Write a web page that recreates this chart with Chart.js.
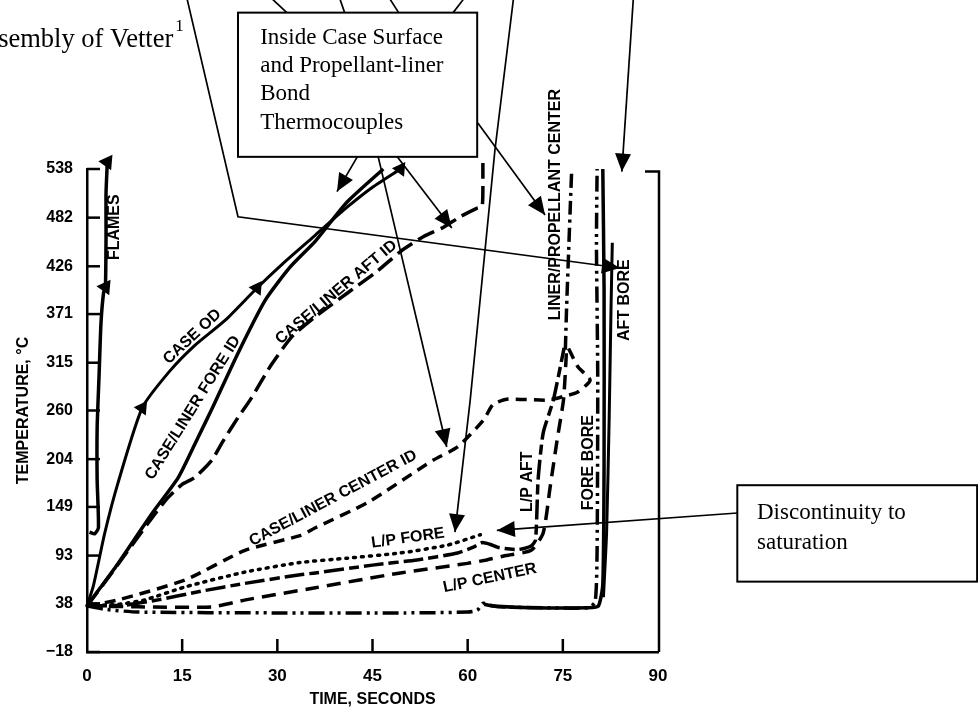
<!DOCTYPE html>
<html lang="en">
<head>
<meta charset="UTF-8" />
<title>Thermocouple temperatures vs time</title>
<script src="https://cdn.jsdelivr.net/npm/chart.js"></script>
<style>
  html, body { margin: 0; padding: 0; background: #fff; }
  #wrap { width: 978px; height: 708px; }
</style>
</head>
<body>
<div id="wrap"><canvas id="chart" width="978" height="708"></canvas></div>
<script>
// axis ticks
const timeTicks = [0, 15, 30, 45, 60, 75, 90];
const tempTicks = [-18, 38, 93, 149, 204, 260, 315, 371, 426, 482, 538];

// curves: [time s, temperature C]
const flames = [[0.4,120],[1.2,118],[1.8,125],[1.6,180],[1.6,240],[1.9,300],[2.2,360],[2.6,395],[2.9,402],[3.0,460],[3.0,510],[3.2,546]];
const caseOD = [[0,35],[1,58],[2.8,119],[4.9,177],[8.7,263],[13,305],[17,335],[21.8,364],[26.8,401],[31,430],[36,462],[41,494],[45,517],[49.4,538]];
const foreID = [[0,35],[2,55],[4.9,84],[10.3,142],[14.4,183],[17.5,229],[19.7,262],[23.8,326],[28.1,387],[32,425],[36,455],[41,500],[46.7,538]];
const aftID = [[0,35],[3.9,73],[10.3,137],[12.8,160],[15,175],[17,183],[19.7,203],[21.3,223],[23.8,252],[25.7,272],[29,312],[32.3,345],[36,368],[41,395],[45.7,420],[49.4,443],[53,460],[56.2,471],[58.8,483],[61.5,493],[62.3,495],[62.4,545]];
const centerID = [[0,35],[4.9,42],[15.5,65],[24.9,99],[33.6,116],[36,125],[44.2,154],[54.6,203],[58.4,218],[62.5,249],[64,267],[66.2,273],[72.6,272],[75.5,277],[77.3,281],[79.3,295],[77.4,310],[75.8,333]];
const lpFore = [[0,35],[5,37],[9.1,42],[15.5,57],[24.9,74],[33.6,85],[41,90],[49.4,96],[56.8,105],[62,117]];
const lpAft = [[0,35],[6,36],[11.2,42],[18,52],[24.9,61],[33.6,71],[36,73],[45,82],[52,88],[58.4,96],[61,103],[62.3,108],[63.5,106],[65,102],[68,100],[70,104],[70.7,111],[71.1,180],[71.9,234],[73.5,272],[75.2,332]];
const lpCenter = [[0,35],[8,34],[19.7,34],[25,42],[36,56],[49.4,73],[60,84],[63,88],[66,93],[70,99],[71.9,119],[73,172],[74.1,226],[75.1,272],[75.5,318],[75.6,335]];
const linerPropCenter = [[75.4,330],[75.6,380],[75.9,440],[76.2,500],[76.4,538]];
const foreBore = [[0,35],[3,31],[8,28],[30,27],[50,27],[60,28],[61.5,30],[62.4,38],[63.5,36],[65,34],[72,33],[79,33],[80.1,40],[80.4,100],[80.5,300],[80.3,450],[80.4,538]];
const aftBore = [[62.6,37],[64,35],[70,33],[79,33],[80.6,35],[81.3,60],[81.5,200],[81.5,400],[81.3,538]];
const aftBore2 = [[81.4,45],[81.9,120],[82.3,250],[82.6,380],[82.8,453]];

// which points of a curve carry a triangle marker
const flameMarks = [8, 11];
const caseODMarks = [4, 8, 13];

// curve names written on the plot: text, time, temperature, angle (deg)
const curveLabels = [
  ['FLAMES', 4.4, 471, -90],
  ['CASE OD', 16.6, 345, -43],
  ['CASE/LINER FORE ID', 16.7, 263, -58],
  ['CASE/LINER AFT ID', 39.3, 396, -40],
  ['CASE/LINER CENTER ID', 38.8, 159, -28],
  ['L/P FORE', 50.6, 113, -8],
  ['L/P CENTER', 63.5, 67, -12],
  ['L/P AFT', 69.4, 178, -90],
  ['FORE BORE', 79.1, 200, -90],
  ['AFT BORE', 84.8, 387, -90],
  ['LINER/PROPELLANT CENTER', 73.8, 497, -90]
];

// callout leader lines in chart units; arrowhead on the last point when head is true
const calloutPaths = [
  { pts: [[15.8,733],[23.8,483],[84.0,424]], head: true },
  { pts: [[29.3,733],[31.5,718]], head: false },
  { pts: [[39.9,733],[40.7,716]], head: false },
  { pts: [[47.8,733],[49.3,716]], head: false },
  { pts: [[59.3,733],[57.5,716]], head: false },
  { pts: [[67.2,733],[64.3,560],[60.4,272],[58.0,120]], head: true },
  { pts: [[86.1,733],[84.3,535]], head: true },
  { pts: [[42.6,552],[39.4,512]], head: true },
  { pts: [[45.9,552],[56.7,218]], head: true },
  { pts: [[48.9,552],[57.5,470]], head: true },
  { pts: [[61.6,591],[72.2,485]], head: true },
  { pts: [[102.5,142],[64.6,122]], head: true }
];

const calloutBoxes = [
  { box: [23.8,718,61.5,552], lines: ['Inside Case Surface', 'and Propellant-liner', 'Bond', 'Thermocouples'], at: [27.3,689], step: 28.3 },
  { box: [102.5,174,140.3,63], lines: ['Discontinuity to', 'saturation'], at: [105.6,142], step: 30 }
];

const sansBold = '"Liberation Sans", Arial, Helvetica, sans-serif';
const serif = '"Liberation Serif", "Times New Roman", serif';

const toXY = arr => arr.map(p => ({ x: p[0], y: p[1] }));

function series(label, pts, dash, width, extra) {
  return Object.assign({
    label: label,
    data: toXY(pts),
    borderColor: '#000',
    backgroundColor: '#000',
    borderWidth: width,
    borderDash: dash,
    pointRadius: 0,
    tension: 0.2,
    clip: false
  }, extra || {});
}

const marked = idx => ({
  pointStyle: 'triangle',
  pointRadius: ctx => idx.includes(ctx.dataIndex) ? 5.5 : 0,
  pointRotation: 35
});

function arrowHead(ctx, x0, y0, x1, y1) {
  const a = Math.atan2(y1 - y0, x1 - x0);
  const len = 18, half = 8;
  ctx.beginPath();
  ctx.moveTo(x1, y1);
  ctx.lineTo(x1 - len * Math.cos(a) + half * Math.sin(a), y1 - len * Math.sin(a) - half * Math.cos(a));
  ctx.lineTo(x1 - len * Math.cos(a) - half * Math.sin(a), y1 - len * Math.sin(a) + half * Math.cos(a));
  ctx.closePath();
  ctx.fill();
}

const decorations = {
  id: 'decorations',
  afterDraw(chart) {
    const ctx = chart.ctx;
    const xs = chart.scales.x, ys = chart.scales.y;
    const X = v => xs.getPixelForValue(v);
    const Y = v => ys.getPixelForValue(v);
    const area = chart.chartArea;
    ctx.save();
    ctx.strokeStyle = '#000';
    ctx.fillStyle = '#000';

    // inward tick marks
    ctx.lineWidth = 2.5;
    ys.ticks.forEach(t => {
      const y = Y(t.value);
      ctx.beginPath(); ctx.moveTo(area.left, y); ctx.lineTo(area.left + 13, y); ctx.stroke();
    });
    xs.ticks.forEach(t => {
      if (t.value === 0 || t.value === 90) return;
      const x = X(t.value);
      ctx.beginPath(); ctx.moveTo(x, area.bottom); ctx.lineTo(x, area.bottom - 13); ctx.stroke();
    });

    // right frame with small stub at the top
    ctx.lineWidth = 2.5;
    ctx.beginPath();
    ctx.moveTo(area.right - 13, Y(535));
    ctx.lineTo(area.right + 1, Y(535));
    ctx.lineTo(area.right + 1, area.bottom);
    ctx.stroke();

    // curve names
    ctx.font = 'bold 16px ' + sansBold;
    ctx.textAlign = 'center';
    ctx.textBaseline = 'middle';
    curveLabels.forEach(([txt, t, v, ang]) => {
      ctx.save();
      ctx.translate(X(t), Y(v));
      ctx.rotate(ang * Math.PI / 180);
      ctx.fillText(txt, 0, 0);
      ctx.restore();
    });

    // callout leaders
    ctx.lineWidth = 1.7;
    calloutPaths.forEach(p => {
      const px = p.pts.map(q => [X(q[0]), Y(q[1])]);
      ctx.beginPath();
      ctx.moveTo(px[0][0], px[0][1]);
      px.slice(1).forEach(q => ctx.lineTo(q[0], q[1]));
      ctx.stroke();
      if (p.head) {
        const a = px[px.length - 2], b = px[px.length - 1];
        arrowHead(ctx, a[0], a[1], b[0], b[1]);
      }
    });

    // callout boxes
    calloutBoxes.forEach(b => {
      const x0 = X(b.box[0]), y0 = Y(b.box[1]), x1 = X(b.box[2]), y1 = Y(b.box[3]);
      ctx.fillStyle = '#fff';
      ctx.fillRect(x0, y0, x1 - x0, y1 - y0);
      ctx.lineWidth = 2;
      ctx.strokeRect(x0, y0, x1 - x0, y1 - y0);
      ctx.fillStyle = '#000';
      ctx.font = '23px ' + serif;
      ctx.textAlign = 'left';
      ctx.textBaseline = 'middle';
      b.lines.forEach((ln, i) => ctx.fillText(ln, X(b.at[0]), Y(b.at[1]) + i * b.step));
    });

    // source note, cut at the left edge like the scan
    ctx.font = '26.5px ' + serif;
    ctx.textAlign = 'right';
    ctx.textBaseline = 'alphabetic';
    ctx.fillText('Assembly of Vetter', X(13.6), Y(678));
    ctx.font = '17px ' + serif;
    ctx.textAlign = 'left';
    ctx.fillText('1', X(13.9), Y(697));
    ctx.restore();
  }
};

new Chart(document.getElementById('chart'), {
  type: 'line',
  data: {
    datasets: [
      series('FLAMES', flames, [], 3.5, marked(flameMarks)),
      series('CASE OD', caseOD, [], 3, marked(caseODMarks)),
      series('CASE/LINER FORE ID', foreID, [], 3.5),
      series('CASE/LINER AFT ID', aftID, [18, 7], 3.5),
      series('CASE/LINER CENTER ID', centerID, [11, 7], 3.5),
      series('L/P FORE', lpFore, [2, 6], 3.5, { borderCapStyle: 'round' }),
      series('L/P AFT', lpAft, [20, 5, 10, 5], 3.5),
      series('L/P CENTER', lpCenter, [14, 8], 3.5),
      series('LINER/PROPELLANT CENTER', linerPropCenter, [14, 5, 3, 5], 3.5),
      series('FORE BORE', foreBore, [16, 5, 3, 5, 3, 5], 3.5),
      series('AFT BORE', aftBore, [], 3.5),
      series('AFT BORE (second trace)', aftBore2, [], 3)
    ]
  },
  options: {
    responsive: false,
    animation: false,
    layout: { padding: { left: 0, top: 169, right: 320, bottom: 0 } },
    plugins: { legend: { display: false }, tooltip: { enabled: false } },
    scales: {
      x: {
        type: 'linear', min: 0, max: 90,
        afterBuildTicks: s => { s.ticks = timeTicks.map(v => ({ value: v })); },
        afterFit: s => { s.height = 56; },
        grid: { display: false, drawTicks: false },
        border: { display: true, color: '#000', width: 2.5 },
        ticks: { color: '#000', padding: 14, maxRotation: 0, font: { family: sansBold, size: 17, weight: 'bold' } },
        title: { display: true, text: 'TIME, SECONDS', color: '#000', padding: { top: 0, bottom: 0 },
                 font: { family: sansBold, size: 16, weight: 'bold', lineHeight: 1.0 } }
      },
      y: {
        type: 'linear', min: -18, max: 538,
        afterBuildTicks: s => { s.ticks = tempTicks.map(v => ({ value: v })); },
        afterFit: s => { s.width = 87; },
        grid: { display: false, drawTicks: false },
        border: { display: true, color: '#000', width: 2.5 },
        ticks: { color: '#000', padding: 14, font: { family: sansBold, size: 16, weight: 'bold' },
                 callback: v => v < 0 ? '\u221218' : String(v) },
        title: { display: true, text: 'TEMPERATURE, \u00B0C', color: '#000', padding: { top: 14, bottom: 0 },
                 font: { family: sansBold, size: 16, weight: 'bold' } }
      }
    }
  },
  plugins: [decorations]
});
</script>
</body>
</html>
